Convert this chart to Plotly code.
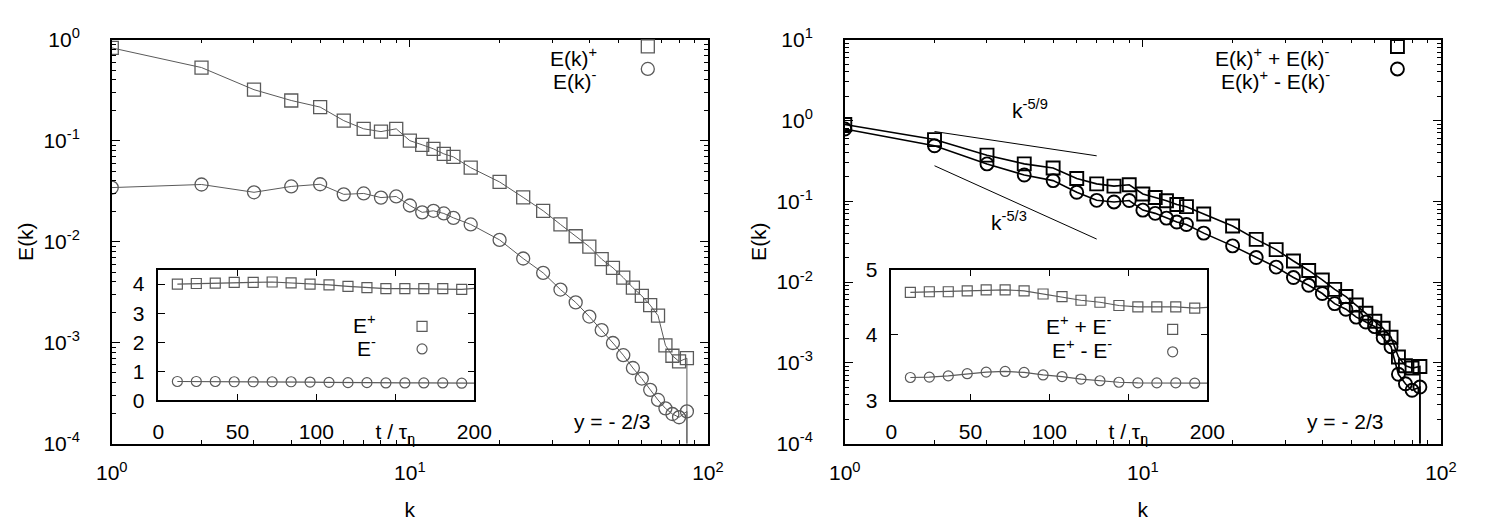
import plotly.graph_objects as go

# ---------------- data ----------------
k_vals = [1, 2, 3, 4, 5, 6, 7, 8, 9, 10, 11, 12, 13, 14, 16, 20, 24, 28, 32, 36,
          40, 44, 48, 52, 56, 60, 64, 68, 72, 76, 80, 85]

e_plus = [0.83, 0.53, 0.32, 0.25, 0.215, 0.158, 0.131, 0.123, 0.131, 0.100, 0.091,
          0.083, 0.074, 0.069, 0.054, 0.039, 0.0274, 0.0202, 0.0148, 0.0113, 0.0089,
          0.0067, 0.0055, 0.0044, 0.0035, 0.0029, 0.00235, 0.00185, 0.00094, 0.00074,
          0.00065, 0.0007]
e_minus = [0.0343, 0.0368, 0.0308, 0.0352, 0.037, 0.0294, 0.030, 0.0273, 0.028, 0.0228,
           0.0195, 0.0202, 0.019, 0.0172, 0.0148, 0.0104, 0.0068, 0.0049, 0.00335, 0.0025,
           0.00181, 0.00133, 0.00099, 0.00075, 0.00056, 0.00044, 0.00034, 0.00027,
           0.000223, 0.000196, 0.000182, 0.000208]

e_sum = [0.89, 0.58, 0.372, 0.29, 0.258, 0.191, 0.164, 0.154, 0.16, 0.123, 0.111, 0.1016,
         0.091, 0.0857, 0.0695, 0.0493, 0.0337, 0.0252, 0.0182, 0.0139, 0.0106, 0.0081,
         0.0066, 0.0052, 0.0041, 0.00326, 0.00267, 0.00207, 0.00118, 0.00092, 0.00086,
         0.0009]
e_diff = [0.785, 0.486, 0.29, 0.211, 0.18, 0.129, 0.1026, 0.098, 0.102, 0.0776, 0.0708,
          0.0618, 0.0554, 0.0515, 0.0403, 0.028, 0.0201, 0.0153, 0.01135, 0.0091, 0.0072,
          0.0054, 0.0046, 0.00367, 0.0032, 0.0028, 0.00204, 0.00158, 0.00072, 0.00055,
          0.000457, 0.0005]

# spectra drop to (essentially) zero just after the last mode
k_cut = 85
e_floor = 1e-9

# reference power-law segments (right panel)
ref_k = [2, 7]
ref_k59 = [0.73, 0.365]
ref_k53 = [0.275, 0.034]

# inset time series
t_vals = [12, 24, 36, 48, 60, 72, 84, 96, 108, 120, 132, 144, 156, 168, 180, 192]
t_end = 200
ins_plus = [4.0, 4.02, 4.03, 4.06, 4.06, 4.07, 4.04, 4.0, 3.97, 3.92, 3.88, 3.84,
            3.84, 3.84, 3.84, 3.82]
ins_plus_end = 3.85
ins_minus = [0.65, 0.65, 0.65, 0.64, 0.64, 0.64, 0.64, 0.63, 0.62, 0.61, 0.61, 0.60,
             0.60, 0.60, 0.60, 0.59]
ins_minus_end = 0.59
ins_sum = [4.65, 4.66, 4.66, 4.674, 4.69, 4.69, 4.674, 4.626, 4.587, 4.53, 4.50, 4.45,
           4.43, 4.43, 4.43, 4.41]
ins_sum_end = 4.42
ins_diff = [3.35, 3.355, 3.374, 3.408, 3.432, 3.442, 3.427, 3.389, 3.364, 3.326, 3.30,
            3.277, 3.268, 3.268, 3.268, 3.263]
ins_diff_end = 3.265

x_major = [1, 10, 100]
x_major_text = ["10<sup>0</sup>", "10<sup>1</sup>", "10<sup>2</sup>"]
y_left_major = [1e-4, 1e-3, 1e-2, 1e-1, 1]
y_left_text = ["10<sup>-4</sup>", "10<sup>-3</sup>", "10<sup>-2</sup>", "10<sup>-1</sup>", "10<sup>0</sup>"]
y_right_major = [1e-4, 1e-3, 1e-2, 1e-1, 1, 10]
y_right_text = y_left_text + ["10<sup>1</sup>"]
ins_x_ticks = [0, 50, 100, 150, 200]
ins_x_text = ["0", "50", "100", "t / τ<sub>η</sub>", "200"]
ins_y_left = [0, 1, 2, 3, 4]
ins_y_right = [3, 4, 5]

# ---------------- figure ----------------
FONT = "Liberation Sans, Arial, sans-serif"
GRAY = "#5a5a5a"
fig = go.Figure()


def minor_vals(lo, hi):
    out = []
    for d in range(lo, hi):
        for m in range(2, 10):
            out.append(m * 10 ** d)
    return out


def spectrum(x, y, xa, ya, sym, color, lw, mlw, leg):
    # connecting line, including the final drop to zero
    fig.add_trace(go.Scatter(
        x=list(x) + [k_cut], y=list(y) + [e_floor], xaxis=xa, yaxis=ya,
        mode="lines", showlegend=False, line=dict(color=color, width=lw)))
    fig.add_trace(go.Scatter(
        x=x, y=y, xaxis=xa, yaxis=ya, mode="markers", name=" ", legend=leg,
        marker=dict(symbol=sym, size=13, color=color, line=dict(color=color, width=mlw))))


def series(x, y, xend, yend, xa, ya, sym, leg):
    fig.add_trace(go.Scatter(
        x=list(x) + [xend], y=list(y) + [yend], xaxis=xa, yaxis=ya,
        mode="lines", showlegend=False, line=dict(color=GRAY, width=1.2)))
    fig.add_trace(go.Scatter(
        x=x, y=y, xaxis=xa, yaxis=ya, mode="markers", name=" ", legend=leg,
        marker=dict(symbol=sym, size=10, color=GRAY, line=dict(color=GRAY, width=1.2))))


spectrum(k_vals, e_plus, "x", "y", "square-open", GRAY, 1, 1.3, "legend")
spectrum(k_vals, e_minus, "x", "y", "circle-open", GRAY, 1, 1.3, "legend")
series(t_vals, ins_plus, t_end, ins_plus_end, "x2", "y2", "square-open", "legend2")
series(t_vals, ins_minus, t_end, ins_minus_end, "x2", "y2", "circle-open", "legend2")

spectrum(k_vals, e_sum, "x3", "y3", "square-open", "black", 1.6, 1.9, "legend3")
spectrum(k_vals, e_diff, "x3", "y3", "circle-open", "black", 1.6, 1.9, "legend3")
for ref in (ref_k59, ref_k53):
    fig.add_trace(go.Scatter(x=ref_k, y=ref, xaxis="x3", yaxis="y3", mode="lines",
                             showlegend=False, line=dict(color="black", width=1)))
series(t_vals, ins_sum, t_end, ins_sum_end, "x4", "y4", "square-open", "legend4")
series(t_vals, ins_diff, t_end, ins_diff_end, "x4", "y4", "circle-open", "legend4")

tickfont = dict(family=FONT, size=21, color="black")
common = dict(showline=True, linecolor="black", linewidth=1.5, mirror="allticks",
              ticks="inside", tickcolor="black", tickwidth=1, showgrid=False,
              zeroline=False, tickfont=tickfont)

main_x = dict(common, type="log", range=[0, 2], tickvals=x_major, ticktext=x_major_text,
              ticklen=8, ticklabelstandoff=10,
              minor=dict(tickvals=minor_vals(0, 2), ticks="inside", ticklen=4,
                         tickcolor="black", showgrid=False),
              title=dict(text="k", font=tickfont, standoff=19))


def main_y(lo, hi, vals, text):
    return dict(common, type="log", range=[lo, hi], tickvals=vals, ticktext=text,
                ticklen=8, ticklabelstandoff=26,
                minor=dict(tickvals=minor_vals(lo, hi), ticks="inside", ticklen=4,
                           tickcolor="black", showgrid=False),
                title=dict(text="E(k)", font=tickfont, standoff=4))


ins_x = dict(common, range=[0, 200], tickvals=ins_x_ticks, ticktext=ins_x_text,
             ticklen=7, ticklabelstandoff=12)

Y0, Y1 = 1 - 451 / 525, 1 - 27 / 525
IY0, IY1 = 1 - 405.7 / 525, 1 - 268.3 / 525

fig.update_layout(
    width=1500, height=525, margin=dict(l=0, r=0, t=0, b=0),
    paper_bgcolor="white", plot_bgcolor="rgba(0,0,0,0)",
    font=dict(family=FONT, size=21, color="black"),
    xaxis=dict(main_x, domain=[98 / 1500, 708 / 1500], anchor="y"),
    yaxis=dict(main_y(-4, 0, y_left_major, y_left_text), domain=[Y0, Y1], anchor="x"),
    xaxis2=dict(ins_x, domain=[145.7 / 1500, 469 / 1500], anchor="y2"),
    yaxis2=dict(common, range=[0, 4.5], tickvals=ins_y_left, ticklen=7,
                ticklabelstandoff=8, domain=[IY0, IY1], anchor="x2"),
    xaxis3=dict(main_x, domain=[848 / 1500, 1458 / 1500], anchor="y3"),
    yaxis3=dict(main_y(-4, 1, y_right_major, y_right_text), domain=[Y0, Y1], anchor="x3"),
    xaxis4=dict(ins_x, domain=[895.7 / 1500, 1219 / 1500], anchor="y4"),
    yaxis4=dict(common, range=[3, 5], tickvals=ins_y_right, ticklen=7,
                ticklabelstandoff=8, domain=[IY0, IY1], anchor="x4"),
)

legfont = dict(family=FONT, size=15, color="black")
leg = dict(bgcolor="rgba(0,0,0,0)", borderwidth=0, font=legfont, itemwidth=30,
           xanchor="left", yanchor="top", tracegroupgap=0, itemclick=False)
fig.update_layout(
    legend=dict(leg, x=626 / 1500, y=1 - 17 / 525),
    legend2=dict(leg, x=395 / 1500, y=1 - 311 / 525),
    legend3=dict(leg, x=1393 / 1500, y=1 - 17 / 525),
    legend4=dict(leg, x=1163 / 1500, y=1 - 314 / 525),
)

ann = dict(showarrow=False, xref="paper", yref="paper", font=tickfont, xanchor="right",
           yanchor="middle")
texts = [
    ("E(k)<sup>+</sup>", 597, 45),
    ("E(k)<sup>-</sup>", 597, 69),
    ("E<sup>+</sup>", 370, 325),
    ("E<sup>-</sup>", 370, 350),
    ("E(k)<sup>+</sup> + E(k)<sup>-</sup>", 1347, 45),
    ("E(k)<sup>+</sup> - E(k)<sup>-</sup>", 1347, 69),
    ("E<sup>+</sup> + E<sup>-</sup>", 1123, 327),
    ("E<sup>+</sup> - E<sup>-</sup>", 1123, 352),
    ("y = - 2/3", 651, 428),
    ("y = - 2/3", 1401, 428),
]
for txt, px, py in texts:
    fig.add_annotation(dict(ann, text=txt, x=px / 1500, y=1 - py / 525))

# power-law labels anchored in data space (log10 coordinates)
fig.add_annotation(dict(showarrow=False, xref="x3", yref="y3", x=0.62, y=0.14,
                        text="k<sup>-5/9</sup>", font=tickfont))
fig.add_annotation(dict(showarrow=False, xref="x3", yref="y3", x=0.55, y=-1.24,
                        text="k<sup>-5/3</sup>", font=tickfont))

fig.write_html("out.html")
